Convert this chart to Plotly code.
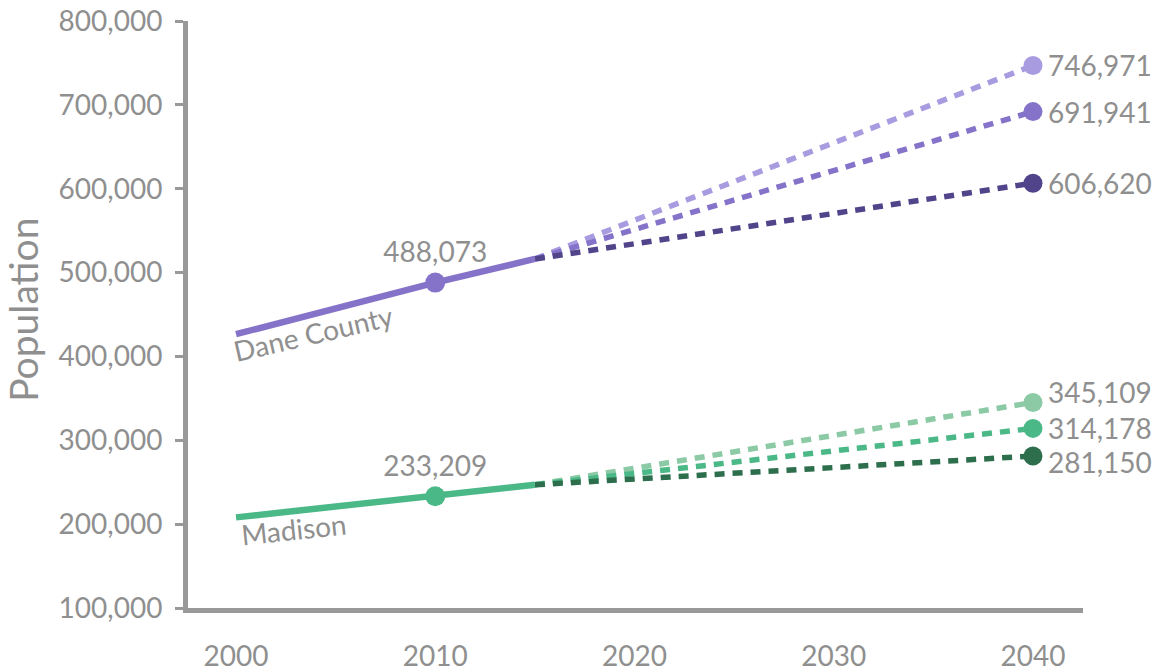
import plotly.graph_objects as go

# ---- data ----
hist_years = [2000, 2010, 2015]
dane_hist = [426526, 488073, 516284]
madison_hist = [208054, 233209, 247000]

proj_years = [2015, 2040]
dane_proj_high = [516284, 746971]
dane_proj_mid = [516284, 691941]
dane_proj_low = [516284, 606620]
madison_proj_high = [247000, 345109]
madison_proj_mid = [247000, 314178]
madison_proj_low = [247000, 281150]

x_ticks = [2000, 2010, 2020, 2030, 2040]
y_ticks = [100000, 200000, 300000, 400000, 500000, 600000, 700000, 800000]

# ---- styles ----
FONT = "Lato"
GRAY = "#8f8f8f"
AXIS = "#999999"
DANE = "#8573c9"
DANE_L = "#a99be0"
DANE_D = "#51448a"
MAD = "#4bb887"
MAD_L = "#8ccaa6"
MAD_D = "#2d6e4c"
FS = 28

fig = go.Figure()

proj_sets = [(dane_proj_high, DANE_L, 0), (dane_proj_mid, DANE, 0), (dane_proj_low, DANE_D, 0),
             (madison_proj_high, MAD_L, 10), (madison_proj_mid, MAD, 0), (madison_proj_low, MAD_D, -6)]

for vals, c, _ in proj_sets:
    fig.add_trace(go.Scatter(
        x=proj_years, y=vals, mode="lines", cliponaxis=False,
        line=dict(color=c, width=5.5, dash="10px,8px"),
        hoverinfo="skip", showlegend=False))

for vals, c in [(dane_hist, DANE), (madison_hist, MAD)]:
    fig.add_trace(go.Scatter(
        x=hist_years, y=vals, mode="lines", cliponaxis=False,
        line=dict(color=c, width=6.5), showlegend=False))
    fig.add_trace(go.Scatter(
        x=[hist_years[1]], y=[vals[1]], mode="markers+text", cliponaxis=False,
        marker=dict(color=c, size=20),
        text=[f"{vals[1]:,}"], textposition="top center",
        textfont=dict(family=FONT, size=FS, color=GRAY),
        showlegend=False))

for vals, c, shift in proj_sets:
    fig.add_trace(go.Scatter(
        x=[proj_years[-1]], y=[vals[-1]], mode="markers", cliponaxis=False,
        marker=dict(color=c, size=19), showlegend=False))
    fig.add_annotation(x=proj_years[-1], y=vals[-1], text=f"{vals[-1]:,}",
                       showarrow=False, xanchor="left", yanchor="middle",
                       xshift=13, yshift=shift,
                       font=dict(family=FONT, size=FS, color=GRAY))

fig.add_annotation(x=2003.9, y=428000, text="Dane County", showarrow=False,
                   textangle=-13, font=dict(family=FONT, size=FS, color=GRAY))
fig.add_annotation(x=2002.9, y=194000, text="Madison", showarrow=False,
                   textangle=-6, font=dict(family=FONT, size=FS, color=GRAY))
fig.add_annotation(xref="paper", yref="paper", x=-0.1845, y=0.5077, text="Population",
                   xanchor="center", yanchor="middle",
                   showarrow=False, textangle=-90,
                   font=dict(family=FONT, size=39, color=GRAY))

fig.update_layout(
    width=1157, height=672,
    margin=dict(l=188, r=74, t=21, b=64),
    plot_bgcolor="white", paper_bgcolor="white",
    font=dict(family=FONT, color=GRAY),
    xaxis=dict(range=[1997.59, 2042.51], tickvals=x_ticks, showgrid=False,
               zeroline=False, showline=True, linecolor=AXIS, linewidth=5,
               ticks="", ticklabelstandoff=19, automargin=False,
               ticklabeloverflow="allow",
               tickfont=dict(family=FONT, size=FS, color=GRAY)),
    yaxis=dict(range=[100000, 800000], tickvals=y_ticks, tickformat=",d",
               showgrid=False, zeroline=False, showline=True, linecolor=AXIS,
               linewidth=5, ticks="outside", ticklen=8, tickwidth=3, tickcolor=AXIS,
               ticklabelstandoff=7, automargin=False, ticklabeloverflow="allow",
               tickfont=dict(family=FONT, size=FS, color=GRAY)),
)

fig.write_html("out.html", config={"displayModeBar": False},
               post_script="document.body.style.margin='0';")
